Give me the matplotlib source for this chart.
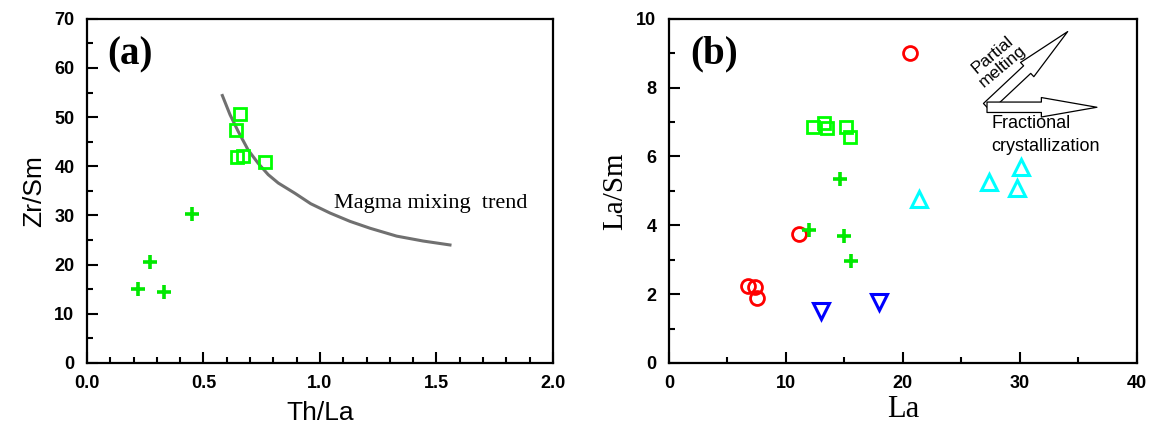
import numpy as np
import matplotlib
matplotlib.use("Agg")
import matplotlib.pyplot as plt
from matplotlib.patches import FancyArrowPatch
from matplotlib.ticker import MultipleLocator, FormatStrFormatter

# --- dati pannello (a): Th/La vs Zr/Sm ---
a_croci_x = [0.22, 0.27, 0.33, 0.45]
a_croci_y = [15.1, 20.5, 14.5, 30.2]
a_quadri_x = [0.655, 0.64, 0.645, 0.668, 0.764]
a_quadri_y = [50.6, 47.3, 41.8, 42.1, 40.8]
# trend di mescolamento
trend_x = [0.581, 0.614, 0.649, 0.692, 0.735, 0.778, 0.821, 0.893, 0.96, 1.043,
           1.129, 1.215, 1.329, 1.443, 1.558]
trend_y = [54.4, 50.5, 47.1, 43.3, 40.6, 38.3, 36.6, 34.5, 32.4, 30.5,
           28.8, 27.4, 25.8, 24.8, 24.0]

# --- dati pannello (b): La vs La/Sm ---
b_cerchi_x = [20.6, 11.1, 6.8, 7.35, 7.55]
b_cerchi_y = [9.0, 3.75, 2.25, 2.2, 1.88]
b_quadri_x = [12.3, 13.3, 13.5, 15.1, 15.5]
b_quadri_y = [6.85, 6.98, 6.82, 6.85, 6.56]
b_croci_x = [14.6, 12.0, 15.0, 15.6]
b_croci_y = [5.35, 3.85, 3.68, 2.97]
b_giu_x = [13.0, 18.0]
b_giu_y = [1.52, 1.78]
b_su_x = [21.4, 27.4, 29.8, 30.1]
b_su_y = [4.76, 5.27, 5.08, 5.68]

serif = "Liberation Serif"
sans = "Liberation Sans"

fig = plt.figure(figsize=(11.52, 4.28), dpi=100)
ax1 = fig.add_axes([0.0755, 0.152, 0.4045, 0.804])
ax2 = fig.add_axes([0.5807, 0.152, 0.406, 0.804])


def stile_assi(ax):
    for s in ax.spines.values():
        s.set_linewidth(1.6)
    ax.tick_params(which="both", direction="in", top=False, right=False, width=1.5)
    ax.tick_params(which="major", length=8, pad=9)
    ax.tick_params(which="minor", length=4)
    for lab in ax.get_xticklabels() + ax.get_yticklabels():
        lab.set_fontfamily(sans)
        lab.set_fontweight("bold")
        lab.set_fontsize(13)


# pannello (a)
ax1.plot(trend_x, trend_y, color="#707070", lw=2.2, zorder=1)
ax1.plot(a_croci_x, a_croci_y, "+", color="#00e800", ms=10, mew=2.6, ls="none")
ax1.plot(a_quadri_x, a_quadri_y, "s", mfc="none", mec="#00ff00", ms=8.5, mew=2, ls="none")
ax1.set_xlim(0, 2.0)
ax1.set_ylim(0, 70)
ax1.xaxis.set_major_locator(MultipleLocator(0.5))
ax1.xaxis.set_minor_locator(MultipleLocator(0.1))
ax1.yaxis.set_major_locator(MultipleLocator(10))
ax1.yaxis.set_minor_locator(MultipleLocator(5))
ax1.xaxis.set_major_formatter(FormatStrFormatter("%.1f"))
stile_assi(ax1)
ax1.set_xlabel("Th/La", fontfamily=sans, fontsize=19, labelpad=6)
ax1.set_ylabel("Zr/Sm", fontfamily=sans, fontsize=19, labelpad=6)
ax1.text(1.06, 32.5, "Magma mixing  trend", fontfamily=serif, fontsize=16, va="center")
ax1.text(0.088, 62.7, "(a)", fontfamily=serif, fontweight="bold", fontsize=28, va="center")

# pannello (b)
ax2.plot(b_cerchi_x, b_cerchi_y, "o", mfc="none", mec="#ff0000", ms=10, mew=2, ls="none")
ax2.plot(b_quadri_x, b_quadri_y, "s", mfc="none", mec="#00ff00", ms=8.5, mew=2, ls="none")
ax2.plot(b_croci_x, b_croci_y, "+", color="#00e800", ms=10, mew=2.6, ls="none")
ax2.plot(b_giu_x, b_giu_y, "v", mfc="none", mec="#0000ff", ms=11, mew=2.2, ls="none")
ax2.plot(b_su_x, b_su_y, "^", mfc="none", mec="#00ffff", ms=11, mew=2.2, ls="none")
ax2.set_xlim(0, 40)
ax2.set_ylim(0, 10)
ax2.xaxis.set_major_locator(MultipleLocator(10))
ax2.xaxis.set_minor_locator(MultipleLocator(5))
ax2.yaxis.set_major_locator(MultipleLocator(2))
ax2.yaxis.set_minor_locator(MultipleLocator(1))
stile_assi(ax2)
ax2.set_xlabel("La", fontfamily=serif, fontsize=22, labelpad=2)
ax2.set_ylabel("La/Sm", fontfamily=serif, fontsize=21, labelpad=6)
ax2.text(1.8, 8.97, "(b)", fontfamily=serif, fontweight="bold", fontsize=28, va="center")

# frecce vuote
stile_freccia = "simple,head_length=40,head_width=14,tail_width=7.5"
for fine in [(34.1, 9.63), (36.6, 7.43)]:
    ax2.add_patch(FancyArrowPatch((27.2, 7.43), fine, arrowstyle=stile_freccia,
                                  mutation_scale=1, fc="white", ec="black", lw=0.9,
                                  shrinkA=0, shrinkB=0))
ax2.text(28.1, 8.8, "Partial\nmelting", fontfamily=sans, fontsize=12.5, rotation=40,
         ha="center", va="center", linespacing=1.0, rotation_mode="anchor")
ax2.text(27.6, 6.95, "Fractional", fontfamily=sans, fontsize=13, va="center")
ax2.text(27.6, 6.28, "crystallization", fontfamily=sans, fontsize=13, va="center")

plt.savefig("out.png", dpi=100)
